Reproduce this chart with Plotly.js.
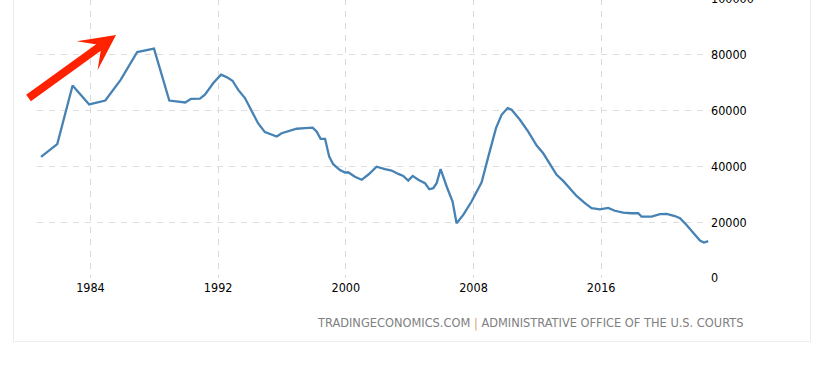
<!DOCTYPE html>
<html>
<head>
<meta charset="utf-8">
<script src="https://cdn.plot.ly/plotly-3.0.1.min.js"></script>
<style>
  html, body { margin: 0; padding: 0; background: #ffffff; overflow: hidden; width: 830px; height: 380px; }
  #frame { position: absolute; left: 13px; top: -10px; width: 798px; height: 352px; border: 1px solid #ececec; box-sizing: border-box; }
  #chart { position: absolute; left: 0; top: -20px; width: 830px; height: 400px; }
</style>
</head>
<body>
<div id="frame"></div>
<div id="chart"></div>
<script>
// Decimal-year positions of the readings
const years = [1980.9, 1981.92, 1982.88, 1983.92, 1984.93,
  1985.89, 1986.93, 1987.98, 1988.94, 1989.94,
  1990.3, 1990.86, 1991.17, 1991.7, 1992.18,
  1992.53, 1992.9, 1993.26, 1993.68, 1994.1,
  1994.5, 1994.93, 1995.35, 1995.67, 1995.98,
  1996.5, 1996.92, 1997.44, 1997.92, 1998.17,
  1998.42, 1998.7, 1998.96, 1999.21, 1999.63,
  1999.95, 2000.15, 2000.57, 2000.99, 2001.4,
  2001.93, 2002.45, 2002.87, 2003.29, 2003.6,
  2003.91, 2004.19, 2004.54, 2004.96, 2005.23,
  2005.48, 2005.69, 2005.94, 2006.32, 2006.69,
  2006.94, 2007.36, 2007.88, 2008.3, 2008.51,
  2008.93, 2009.41, 2009.76, 2010.14, 2010.39,
  2010.91, 2011.43, 2011.96, 2012.37, 2012.79,
  2013.21, 2013.62, 2014.0, 2014.46, 2014.98,
  2015.4, 2015.92, 2016.44, 2016.86, 2017.38,
  2017.9, 2018.32, 2018.53, 2019.16, 2019.68,
  2020.1, 2020.62, 2020.94, 2021.35, 2021.77,
  2022.19, 2022.44, 2022.71];

// Business bankruptcy filings
const filings = [43400, 48000, 69000, 62200, 63600,
  71000, 81000, 82200, 63600, 62900,
  64200, 64300, 65700, 69900, 72900,
  72000, 70700, 67400, 64500, 59700,
  55500, 52300, 51300, 50700, 51900,
  52900, 53500, 53700, 53900, 52500,
  49900, 49900, 43500, 40800, 38700,
  37800, 37900, 36300, 35200, 37000,
  39900, 39000, 38500, 37300, 36600,
  34900, 36600, 35200, 34000, 31800,
  32200, 34000, 39000, 32800, 27400,
  19600, 22600, 27400, 32200, 34300,
  43500, 53700, 58500, 60900, 60300,
  56700, 52500, 47500, 44700, 40800,
  37000, 34800, 32400, 29400, 26800,
  25000, 24600, 25100, 24100, 23400,
  23200, 23200, 22000, 22000, 22900,
  23000, 22200, 21400, 19000, 16000,
  13400, 12700, 13200];

const xTicks = [1984, 1992, 2000, 2008, 2016];
const xTickLabels = ['1984', '1992', '2000', '2008', '2016'];
const yTicks = [0, 20000, 40000, 60000, 80000, 100000];
const yTickLabels = ['0', '20000', '40000', '60000', '80000', '100000'];
const sourceText = 'TRADINGECONOMICS.COM <span style="color:#e0a060">|</span> ADMINISTRATIVE OFFICE OF THE U.S. COURTS';

const FONT = '"DejaVu Sans Condensed", "Liberation Sans Narrow", "DejaVu Sans", sans-serif';

const trace = {
  x: years,
  y: filings,
  type: 'scatter',
  mode: 'lines',
  line: { color: '#4682b4', width: 2.3, shape: 'linear' },
  hoverinfo: 'skip'
};

const layout = {
  width: 830,
  height: 400,
  margin: { l: 37, r: 120, t: 19, b: 102 },
  paper_bgcolor: 'rgba(0,0,0,0)',
  plot_bgcolor: 'rgba(0,0,0,0)',
  showlegend: false,
  font: { family: FONT, size: 12.5, color: '#000000' },
  xaxis: {
    range: [1980.65, 2022.82],
    tickmode: 'array',
    tickvals: xTicks,
    ticktext: xTickLabels,
    showgrid: true,
    gridcolor: '#d9d9d9',
    griddash: '6px,6px',
    gridwidth: 1,
    zeroline: false,
    showline: false,
    ticks: '',
    tickfont: { family: FONT, size: 12.5, color: '#000000' }
  },
  yaxis: {
    side: 'right',
    range: [0, 100000],
    tickmode: 'array',
    tickvals: yTicks,
    ticktext: yTickLabels,
    showgrid: true,
    gridcolor: '#dedede',
    griddash: '6px,6px',
    gridwidth: 1,
    zeroline: false,
    showline: false,
    ticks: '',
    tickfont: { family: FONT, size: 12.5, color: '#000000' }
  },
  annotations: [
    {
      xref: 'paper', yref: 'paper',
      x: 0.1174, y: 0.871,
      ax: -89, ay: 64,
      axref: 'pixel', ayref: 'pixel',
      text: '',
      showarrow: true,
      arrowhead: 3,
      arrowsize: 0.74,
      arrowwidth: 8,
      arrowcolor: '#ff2200',
      standoff: 0
    },
    {
      xref: 'paper', yref: 'paper',
      x: 1.0527, y: -0.16,
      xanchor: 'right', yanchor: 'middle',
      text: sourceText,
      showarrow: false,
      font: { family: FONT, size: 12.7, color: '#808080' }
    }
  ]
};

Plotly.newPlot('chart', [trace], layout, { staticPlot: true, displayModeBar: false });
</script>
</body>
</html>
